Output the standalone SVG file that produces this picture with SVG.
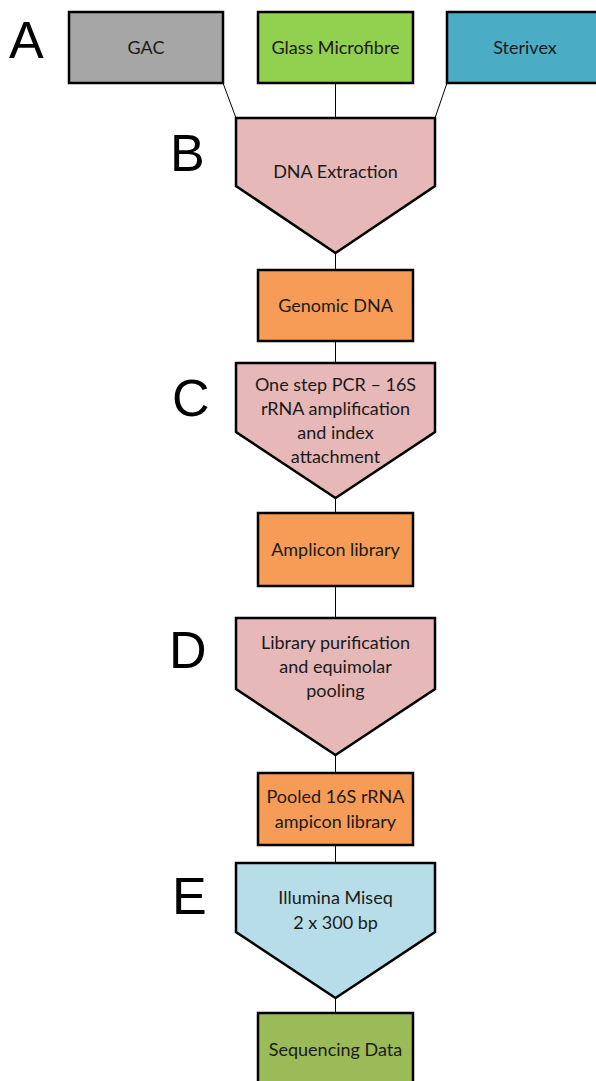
<svg xmlns="http://www.w3.org/2000/svg" width="596" height="1081" viewBox="0 0 596 1081">
<style>
.n{stroke:#000;stroke-width:2.5;stroke-linejoin:miter}
.t{font-family:Lato,"Open Sans","Liberation Sans",sans-serif;font-size:18px;fill:#1a1a1a;text-anchor:middle}
.l{font-family:"Liberation Sans",Arial,sans-serif;font-size:52px;fill:#000}
.c{stroke:#000;stroke-width:1;fill:none}
</style>
<rect width="596" height="1081" fill="#fff"/>
<g id="connectors">
<line class="c" x1="223" y1="83" x2="236" y2="118"/>
<line class="c" x1="335.5" y1="83" x2="335.5" y2="118"/>
<line class="c" x1="447" y1="83" x2="435" y2="118"/>
<line class="c" x1="335.5" y1="253" x2="335.5" y2="270"/>
<line class="c" x1="335.5" y1="341" x2="335.5" y2="363"/>
<line class="c" x1="335.5" y1="498" x2="335.5" y2="513"/>
<line class="c" x1="335.5" y1="586" x2="335.5" y2="618"/>
<line class="c" x1="335.5" y1="755" x2="335.5" y2="773"/>
<line class="c" x1="335.5" y1="845" x2="335.5" y2="863"/>
<line class="c" x1="335.5" y1="998" x2="335.5" y2="1013"/>
</g>
<g id="labels">
<text class="l" x="9" y="58">A</text>
<text class="l" x="170" y="171">B</text>
<text class="l" x="172" y="416">C</text>
<text class="l" x="169" y="668">D</text>
<text class="l" x="172" y="914">E</text>
</g>
<g id="gac">
<rect class="n" x="69" y="12" width="154" height="71" fill="#A6A6A6"/>
<text class="t" x="146" y="54">GAC</text>
</g>
<g id="glass">
<rect class="n" x="258" y="12" width="155" height="71" fill="#92D050"/>
<text class="t" x="335.5" y="54">Glass Microfibre</text>
</g>
<g id="sterivex">
<rect class="n" x="447" y="12" width="156" height="71" fill="#4BACC6"/>
<text class="t" x="525" y="54">Sterivex</text>
</g>
<g id="dna-extraction">
<path class="n" d="M236,118 H435 V186 L335.5,253 L236,186 Z" fill="#E6B9B8"/>
<text class="t" x="335.5" y="178">DNA Extraction</text>
</g>
<g id="genomic-dna">
<rect class="n" x="258" y="270" width="155" height="71" fill="#F79C56"/>
<text class="t" x="335.5" y="312">Genomic DNA</text>
</g>
<g id="pcr">
<path class="n" d="M236,363 H435 V432 L335.5,498 L236,432 Z" fill="#E6B9B8"/>
<text class="t" x="335.5" y="391">One step PCR – 16S</text>
<text class="t" x="335.5" y="415">rRNA amplification</text>
<text class="t" x="335.5" y="439">and index</text>
<text class="t" x="335.5" y="463">attachment</text>
</g>
<g id="amplicon-library">
<rect class="n" x="258" y="513" width="155" height="73" fill="#F79C56"/>
<text class="t" x="335.5" y="556">Amplicon library</text>
</g>
<g id="purification">
<path class="n" d="M236,618 H435 V689 L335.5,755 L236,689 Z" fill="#E6B9B8"/>
<text class="t" x="335.5" y="649">Library purification</text>
<text class="t" x="335.5" y="673">and equimolar</text>
<text class="t" x="335.5" y="697">pooling</text>
</g>
<g id="pooled-library">
<rect class="n" x="258" y="773" width="155" height="72" fill="#F79C56"/>
<text class="t" x="335.5" y="803">Pooled 16S rRNA</text>
<text class="t" x="335.5" y="828">ampicon library</text>
</g>
<g id="miseq">
<path class="n" d="M236,863 H435 V932 L335.5,998 L236,932 Z" fill="#B7DEE8"/>
<text class="t" x="335.5" y="904">Illumina Miseq</text>
<text class="t" x="335.5" y="929">2 x 300 bp</text>
</g>
<g id="sequencing-data">
<rect class="n" x="258" y="1013" width="155" height="75" fill="#9BBB59"/>
<text class="t" x="335.5" y="1056">Sequencing Data</text>
</g>
</svg>
